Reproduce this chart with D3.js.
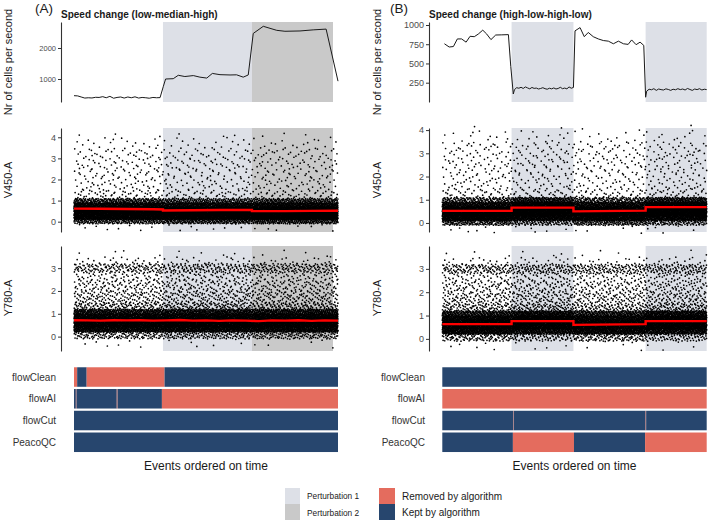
<!DOCTYPE html>
<html><head><meta charset="utf-8">
<script src="https://cdn.jsdelivr.net/npm/d3@7"></script>
<style>
body{margin:0;background:#fff}
svg{display:block}
text{font-family:"Liberation Sans",Arial,Helvetica,sans-serif}
</style>
</head><body>
<svg id="c" width="709" height="522"></svg>
<script>
// ---------------- DATA ----------------
const methods = ["flowClean", "flowAI", "flowCut", "PeacoQC"];
const legendPert = ["Perturbation 1", "Perturbation 2"];
const legendStatus = ["Removed by algorithm", "Kept by algorithm"];

// Time axis: events ordered on time, 0..100 (% of acquisition)
const pertA = [[33.7, 67.4, "Perturbation 1"], [67.4, 98.1, "Perturbation 2"]];
const pertB = [[26.2, 49.6, "Perturbation 1"], [76.9, 100, "Perturbation 1"]];

// Speed (cells per second), panel A
const speedA_time = [0,1.4,2.7,4.1,5.4,6.8,8.2,9.5,10.9,12.2,13.6,15,16.3,17.7,19,20.4,21.7,23.1,24.5,25.8,27.2,28.5,29.9,31.3,32.6,
  33.8,34.7,37.6,39.5,42,45.2,47.7,50.3,52.4,55.3,59.1,61.6,64.1,66,67.9,71.7,76.8,79.9,85.6,90.6,95.5,100];
const speedA_value = [462,455,420,385,395,388,410,405,430,395,440,380,405,420,385,420,395,425,385,405,395,380,405,395,400,
  750,1000,1010,1120,1080,1110,1060,1030,1180,1140,1130,1135,1060,1130,2470,2700,2570,2540,2550,2585,2610,930];

// Speed, panel B (high segments with explicit times; low segments evenly sampled)
const speedB_high1_time = [0.8,2.6,4.2,5.7,7.3,9.0,10.5,12.1,13.6,15.3,16.8,18.4,20.2,22.5,25.0,25.9,26.85];
const speedB_high1_value = [756,714,720,819,819,777,853,848,882,933,882,810,870,872,875,461,103];
const speedB_low1_range = [27.3, 49.6];
const speedB_low1_value = [160,185,178,190,175,195,182,170,188,176,180,168,175,185,172,165,178,170,182,168,175,190,172,180,170,195,178,188];
const speedB_high2_time = [50.2,52.1,53.7,55.2,57.1,59.0,60.9,62.8,64.7,66.6,68.5,70.3,71.6,73.3,74.8,76.2,76.9];
const speedB_high2_value = [924,966,848,903,848,819,798,790,756,790,756,748,806,744,777,735,61];
const speedB_low2_range = [77.3, 100];
const speedB_low2_value = [140,165,158,172,150,168,160,155,170,162,150,165,158,172,160,168,155,175,162,150,168,160,172,155,165,160];

// Scatter clouds: counts of events per value bin and time segment
const v450Edges = [-0.45,-0.1,0.1,0.3,0.5,0.7,0.9,1.1,1.5,2.0,2.5,3.0,3.5,4.0,4.2];
const y780Edges = [-0.5,-0.1,0.2,0.4,0.6,0.8,1.0,1.2,1.5,2.0,2.5,2.8,3.2,3.5,3.8];

const segA = [[0, 33.7], [33.7, 67.4], [67.4, 100]];
const segB = [[0, 26.2], [26.2, 49.6], [49.6, 76.9], [76.9, 100]];

const v450A_counts = [
  [8,190,560,700,660,470,220,52,38,38,38,34,16,3],
  [8,215,620,700,590,400,190,48,36,36,36,32,15,3],
  [8,225,640,700,560,390,190,46,36,36,36,32,15,3]
];
const v450B_counts = [
  [6,155,460,550,500,320,140,38,30,30,30,27,11,1],
  [5,100,340,480,520,420,210,36,28,28,28,25,10,1],
  [6,160,470,560,510,330,145,40,31,31,31,28,11,1],
  [5,100,340,480,520,420,210,36,28,28,28,25,10,1]
];
const y780A_counts = [
  [6,140,450,590,600,520,340,130,130,100,45,150,18,4],
  [6,140,450,590,600,520,340,130,130,100,45,150,18,4],
  [6,135,435,575,585,505,325,125,125,96,43,145,17,4]
];
const y780B_counts = [
  [5,110,350,460,460,390,250,95,100,78,34,130,13,3],
  [4,80,265,385,420,400,275,90,92,72,30,115,12,3],
  [5,115,360,470,460,390,245,97,104,80,36,135,13,3],
  [4,80,265,385,420,400,275,90,92,72,30,115,12,3]
];

// Running medians (red lines)
const medA_v450_time = [0,10,20,30,33.7,33.7,45,55,67.4,67.4,80,90,100];
const medA_v450_value = [0.62,0.61,0.60,0.59,0.58,0.53,0.54,0.55,0.55,0.50,0.50,0.51,0.52];
const medA_y780_time = [0,5,10,15,20,25,30,35,40,45,50,55,60,65,70,75,80,85,90,95,100];
const medA_y780_value = [0.72,0.71,0.70,0.72,0.71,0.72,0.70,0.71,0.73,0.70,0.71,0.69,0.71,0.70,0.68,0.71,0.70,0.72,0.69,0.71,0.70];
const medB_time = [0,26.2,26.2,49.6,49.6,76.9,76.9,100];
const medB_v450_value = [0.52,0.52,0.66,0.66,0.50,0.53,0.68,0.68];
const medB_y780_value = [0.63,0.63,0.76,0.76,0.60,0.63,0.76,0.76];

// Quality-control decisions: [start, end, status] (R = removed, K = kept)
const barsA = {
  flowClean: [[0,1.2,"R"],[1.2,4.8,"K"],[4.8,34.3,"R"],[34.3,100,"K"]],
  flowAI: [[0,0.7,"K"],[0.7,0.95,"R"],[0.95,16.2,"K"],[16.2,16.5,"R"],[16.5,33.3,"K"],[33.3,100,"R"]],
  flowCut: [[0,100,"K"]],
  PeacoQC: [[0,100,"K"]]
};
const barsB = {
  flowClean: [[0,100,"K"]],
  flowAI: [[0,100,"R"]],
  flowCut: [[0,26.8,"K"],[26.8,27.0,"R"],[27.0,76.9,"K"],[76.9,77.1,"R"],[77.1,100,"K"]],
  PeacoQC: [[0,26.7,"K"],[26.7,49.8,"R"],[49.8,76.7,"K"],[76.7,100,"R"]]
};

// Axis ticks
const ticksA_speed = [1000, 2000];
const ticksB_speed = [250, 500, 750, 1000];
const ticksV450 = [0, 1, 2, 3, 4];
const ticksY780 = [0, 1, 2, 3];

// ---------------- STYLE / LAYOUT ----------------
const colPert = {"Perturbation 1": "#dde0e7", "Perturbation 2": "#c9c9c9"};
const colStatus = {R: "#e46c5e", K: "#27466e"};
const rows = {speed: [102, 22], v450: [232, 128], y780: [351, 246]};

const svg = d3.select("#c");

function halton(i, base) {
  let f = 1, r = 0;
  while (i > 0) { f /= base; r += f * (i % base); i = Math.floor(i / base); }
  return r;
}

function cloud(segs, edges, counts) {
  // spread the counted events evenly over each bin (Halton layout)
  const pts = [];
  counts.forEach((row, s) => {
    row.forEach((n, b) => {
      const start = 1 + 97 * b + 389 * s;
      for (let i = 0; i < n; i++) {
        pts.push({
          t: segs[s][0] + (segs[s][1] - segs[s][0]) * halton(start + i, 2),
          v: edges[b] + (edges[b + 1] - edges[b]) * halton(start + i, 3)
        });
      }
    });
  });
  return pts;
}

function drawAxis(g, y, ticks, axisX, fs) {
  const ax = g.append("g").attr("transform", `translate(${axisX},0)`)
    .call(d3.axisLeft(y).tickValues(ticks).tickFormat(d3.format("d"))
      .tickSize(3).tickSizeOuter(0).tickPadding(2));
  ax.select(".domain").attr("stroke", "#333").attr("stroke-width", 1.1);
  ax.selectAll(".tick line").attr("stroke", "#333").attr("stroke-width", 1);
  ax.selectAll(".tick text").attr("fill", "#4d4d4d").style("font-size", fs + "px")
    .style("font-family", '"Liberation Sans",Arial,sans-serif');
}

function drawPanel(cfg) {
  const g = svg.append("g");
  const x = d3.scaleLinear().domain([0, 100]).range([cfg.x0, cfg.x1]);
  const yS = d3.scaleLinear().domain(cfg.speedDomain).range(rows.speed);
  const yV = d3.scaleLinear().domain(cfg.v450Domain).range(rows.v450);
  const yY = d3.scaleLinear().domain(cfg.y780Domain).range(rows.y780);

  [rows.speed, rows.v450, rows.y780].forEach(r => {
    g.append("g").selectAll("rect").data(cfg.pert).join("rect")
      .attr("x", d => x(d[0])).attr("width", d => x(d[1]) - x(d[0]))
      .attr("y", r[1]).attr("height", r[0] - r[1])
      .attr("fill", d => colPert[d[2]]);
  });

  g.append("path").datum(cfg.speed)
    .attr("fill", "none").attr("stroke", "#1a1a1a").attr("stroke-width", 1)
    .attr("stroke-linejoin", "round")
    .attr("d", d3.line().x(d => x(d[0])).y(d => yS(d[1])));

  [[cfg.v450Pts, yV], [cfg.y780Pts, yY]].forEach(([pts, y]) => {
    g.append("g").selectAll("circle").data(pts).join("circle")
      .attr("cx", d => x(d.t)).attr("cy", d => y(d.v)).attr("r", 0.85)
      .attr("fill", "#000");
  });

  [[cfg.medV, yV], [cfg.medY, yY]].forEach(([m, y]) => {
    g.append("path").datum(m).attr("fill", "none").attr("stroke", "#ff0000")
      .attr("stroke-width", 2.4)
      .attr("d", d3.line().x(d => x(d[0])).y(d => y(d[1])));
  });

  drawAxis(g, yS, cfg.speedTicks, cfg.axisX, cfg.speedTickFs);
  drawAxis(g, yV, ticksV450, cfg.axisX, 9);
  drawAxis(g, yY, ticksY780, cfg.axisX, 9);

  const yt = [["Nr of cells per second", 62], ["V450-A", 180], ["Y780-A", 298]];
  yt.forEach(([t, cy]) => {
    g.append("text").attr("transform", `translate(${cfg.titleX},${cy}) rotate(-90)`)
      .attr("text-anchor", "middle").attr("dy", "0.35em")
      .style("font-size", "11px").attr("fill", "#1a1a1a").text(t);
  });

  g.append("text").attr("x", cfg.tagX).attr("y", 13).style("font-size", "13.5px")
    .attr("fill", "#1a1a1a").text(cfg.tag);
  g.append("text").attr("x", cfg.axisX).attr("y", 17.5).style("font-size", "10px")
    .style("font-weight", "bold").attr("fill", "#1a1a1a").text(cfg.title);

  const yb = d3.scaleBand().domain(methods).range([366.15, 453.15])
    .paddingInner(0.103).paddingOuter(0.0515);
  methods.forEach(m => {
    g.append("g").selectAll("rect").data(cfg.bars[m]).join("rect")
      .attr("x", d => x(d[0])).attr("width", d => Math.max(0.3, x(d[1]) - x(d[0])))
      .attr("y", yb(m)).attr("height", yb.bandwidth())
      .attr("fill", d => colStatus[d[2]]);
    g.append("text").attr("x", cfg.barLabelX).attr("y", yb(m) + yb.bandwidth() / 2)
      .attr("dy", "0.35em").attr("text-anchor", "end").style("font-size", "10px")
      .attr("fill", "#333").text(m);
  });
  g.append("text").attr("x", (cfg.x0 + cfg.x1) / 2).attr("y", 470)
    .attr("text-anchor", "middle").style("font-size", "12px").attr("fill", "#1a1a1a")
    .text("Events ordered on time");
}

function speedB() {
  const s = [];
  speedB_high1_time.forEach((t, i) => s.push([t, speedB_high1_value[i]]));
  const l1 = d3.scaleLinear().domain([0, speedB_low1_value.length - 1]).range(speedB_low1_range);
  speedB_low1_value.forEach((v, i) => s.push([l1(i), v]));
  speedB_high2_time.forEach((t, i) => s.push([t, speedB_high2_value[i]]));
  const l2 = d3.scaleLinear().domain([0, speedB_low2_value.length - 1]).range(speedB_low2_range);
  speedB_low2_value.forEach((v, i) => s.push([l2(i), v]));
  return s;
}

drawPanel({
  tag: "(A)", tagX: 35, title: "Speed change (low-median-high)",
  x0: 74, x1: 338, axisX: 61, titleX: 8, barLabelX: 56,
  pert: pertA,
  speed: speedA_time.map((t, i) => [t, speedA_value[i]]),
  speedDomain: [258, 2839], speedTicks: ticksA_speed, speedTickFs: 7.5,
  v450Domain: [-0.49, 4.44], y780Domain: [-0.63, 3.97],
  v450Pts: cloud(segA, v450Edges, v450A_counts),
  y780Pts: cloud(segA, y780Edges, y780A_counts),
  medV: medA_v450_time.map((t, i) => [t, medA_v450_value[i]]),
  medY: medA_y780_time.map((t, i) => [t, medA_y780_value[i]]),
  bars: barsA
});

drawPanel({
  tag: "(B)", tagX: 390, title: "Speed change (high-low-high-low)",
  x0: 442.3, x1: 706.7, axisX: 429, titleX: 377, barLabelX: 425,
  pert: pertB,
  speed: speedB(),
  speedDomain: [-1, 1039], speedTicks: ticksB_speed, speedTickFs: 9,
  v450Domain: [-0.39, 4.09], y780Domain: [-0.52, 3.98],
  v450Pts: cloud(segB, v450Edges, v450B_counts),
  y780Pts: cloud(segB, y780Edges, y780B_counts),
  medV: medB_time.map((t, i) => [t, medB_v450_value[i]]),
  medY: medB_time.map((t, i) => [t, medB_y780_value[i]]),
  bars: barsB
});

const lg = svg.append("g");
legendPert.forEach((p, i) => {
  lg.append("rect").attr("x", 285).attr("y", 488 + i * 16).attr("width", 15).attr("height", 16)
    .attr("fill", colPert[p]);
  lg.append("text").attr("x", 307).attr("y", 499 + i * 16.5).style("font-size", "8.3px")
    .attr("fill", "#1a1a1a").text(p);
});
const statusKeys = ["R", "K"];
legendStatus.forEach((p, i) => {
  lg.append("rect").attr("x", 379).attr("y", 488 + i * 16).attr("width", 16).attr("height", 16)
    .attr("fill", colStatus[statusKeys[i]]);
  lg.append("text").attr("x", 402).attr("y", 499.5 + i * 16.5).style("font-size", "10px")
    .attr("fill", "#1a1a1a").text(p);
});
</script>
</body></html>
